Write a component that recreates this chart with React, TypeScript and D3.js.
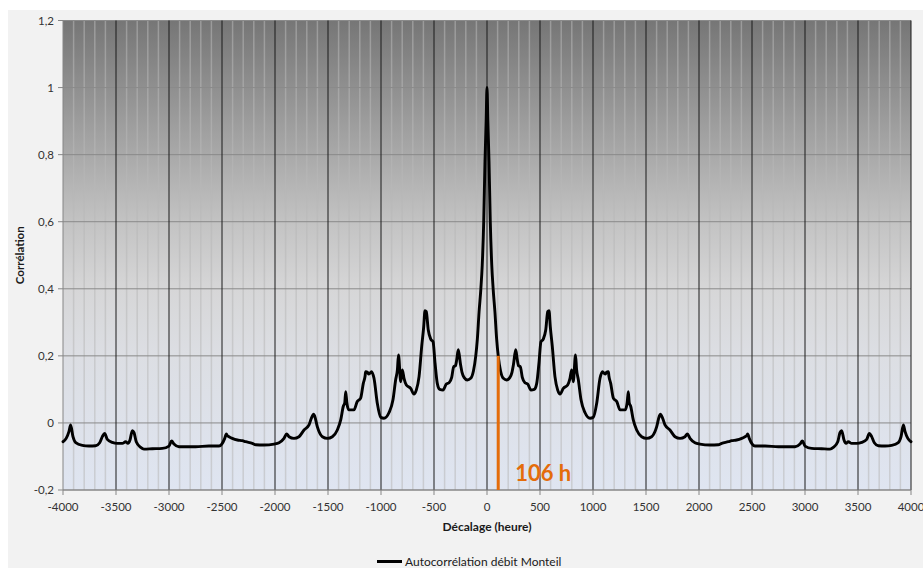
import React from "react";
import * as d3 from "d3";

// Autocorrelation of the Monteil discharge, sampled at positive lags (hours).
// The function is even, so negative lags reuse the same values.
const lagHours = [
  0, 8, 19, 31, 45, 58, 75, 91, 106, 128, 154, 186, 215, 235, 250, 271, 285, 298, 314, 333,
  358, 384, 415, 446, 469, 490, 509, 531, 554, 573, 585, 597, 616, 641, 667, 689, 720, 761,
  783, 799, 814, 835, 845, 862, 887, 924, 972, 1003, 1035, 1066, 1090, 1105, 1118, 1125,
  1145, 1150, 1167, 1192, 1224, 1255, 1305, 1322, 1333, 1342, 1356, 1380, 1412, 1459, 1506,
  1553, 1601, 1625, 1635, 1657, 1679, 1726, 1774, 1821, 1868, 1890, 1915, 1962, 2009, 2104,
  2182, 2214, 2277, 2308, 2355, 2403, 2434, 2450, 2459, 2474, 2502, 2528, 2623, 2749, 2906,
  2953, 2975, 3000, 3063, 3157, 3236, 3267, 3309, 3330, 3346, 3368, 3387, 3409, 3440, 3487,
  3535, 3582, 3607, 3629, 3654, 3692, 3755, 3818, 3880, 3906, 3928, 3944, 3970, 4000,
];
const autocorrelation = [
  1.0, 0.9, 0.78, 0.6, 0.47, 0.4, 0.33, 0.25, 0.2, 0.155, 0.133, 0.128, 0.135, 0.15, 0.175,
  0.218, 0.19, 0.17, 0.168, 0.136, 0.12, 0.116, 0.098, 0.1, 0.118, 0.178, 0.242, 0.25, 0.277,
  0.332, 0.335, 0.287, 0.228, 0.138, 0.098, 0.086, 0.103, 0.113, 0.133, 0.158, 0.123, 0.203,
  0.16, 0.128, 0.069, 0.031, 0.014, 0.017, 0.059, 0.133, 0.153, 0.148, 0.146, 0.15, 0.153,
  0.14, 0.118, 0.074, 0.064, 0.039, 0.039, 0.06, 0.093, 0.06, 0.049, 0.009, -0.021, -0.041,
  -0.046, -0.041, -0.011, 0.02, 0.026, 0.014, -0.006, -0.021, -0.041, -0.046, -0.041, -0.033,
  -0.046, -0.059, -0.063, -0.066, -0.065, -0.061, -0.056, -0.053, -0.051, -0.046, -0.041,
  -0.038, -0.033, -0.046, -0.063, -0.069, -0.069, -0.071, -0.071, -0.063, -0.054, -0.069,
  -0.076, -0.077, -0.078, -0.073, -0.056, -0.029, -0.023, -0.051, -0.061, -0.056, -0.061,
  -0.061, -0.058, -0.049, -0.031, -0.041, -0.059, -0.068, -0.069, -0.067, -0.059, -0.041,
  -0.006, -0.026, -0.046, -0.056,
];

const xTickValues = [
  -4000, -3500, -3000, -2500, -2000, -1500, -1000, -500, 0, 500, 1000, 1500, 2000, 2500, 3000,
  3500, 4000,
];
const xMinorStep = 100;
const yTickValues = [-0.2, 0, 0.2, 0.4, 0.6, 0.8, 1, 1.2];

const markedLag = 106;
const markedValue = 0.2;
const markedLabel = "106 h";

const seriesName = "Autocorrélation débit Monteil";
const xTitle = "Décalage (heure)";
const yTitle = "Corrélation";

const frLocale = d3.formatLocale({
  decimal: ",",
  thousands: " ",
  grouping: [3],
  currency: ["", " €"],
  minus: "-",
});
const fmt = frLocale.format("~g");

const FONT = "Lato, 'Open Sans', sans-serif";

export default function App() {
  const W = 923;
  const H = 568;
  const x = d3.scaleLinear().domain([-4000, 4000]).range([63, 911]);
  const y = d3.scaleLinear().domain([-0.2, 1.2]).range([490, 20.5]);
  const [x0, x1] = x.range();
  const [yBottom, yTop] = y.range();

  const points: [number, number][] = [];
  for (let i = lagHours.length - 1; i > 0; i--) points.push([-lagHours[i], autocorrelation[i]]);
  for (let i = 0; i < lagHours.length; i++) points.push([lagHours[i], autocorrelation[i]]);

  const line = d3
    .line<[number, number]>()
    .x((d) => x(d[0]))
    .y((d) => y(d[1]))
    .curve(d3.curveMonotoneX);

  const minorTicks = d3
    .range(-4000, 4001, xMinorStep)
    .filter((v) => !xTickValues.includes(v));

  return (
    <div style={{ position: "absolute", left: 0, top: 0 }}>
      <svg width={W} height={H} style={{ display: "block" }} fontFamily={FONT}>
        <defs>
          <linearGradient id="plotBg" x1="0" y1="0" x2="0" y2="1">
            <stop offset="0" stopColor="#767676" />
            <stop offset="0.27" stopColor="#a6a6a6" />
            <stop offset="0.43" stopColor="#c3c3c3" />
            <stop offset="0.57" stopColor="#d6d6d7" />
            <stop offset="0.71" stopColor="#dcdee3" />
            <stop offset="1" stopColor="#dfe5f1" />
          </linearGradient>
        </defs>
        <rect x={0} y={0} width={W} height={H} fill="#ffffff" />
        <rect x={8} y={10} width={W - 8} height={H - 10} fill="#f2f2f2" />

        {/* plot area */}
        <rect x={x0} y={yTop} width={x1 - x0} height={yBottom - yTop} fill="url(#plotBg)" />

        {/* minor vertical grid */}
        {minorTicks.map((v) => (
          <line
            key={`m${v}`}
            x1={x(v)}
            x2={x(v)}
            y1={yTop}
            y2={yBottom}
            stroke="#b8b8b8"
            strokeOpacity={0.55}
            strokeWidth={1.5}
          />
        ))}

        {/* horizontal grid */}
        {yTickValues.map((v) => (
          <line
            key={`h${v}`}
            x1={x0}
            x2={x1}
            y1={y(v)}
            y2={y(v)}
            stroke="#8a8a8a"
            strokeWidth={1}
          />
        ))}

        {/* major vertical grid */}
        {xTickValues
          .filter((v) => v !== -4000)
          .map((v) => (
            <line
              key={`M${v}`}
              x1={x(v)}
              x2={x(v)}
              y1={yTop}
              y2={yBottom}
              stroke="#1a1a1a"
              strokeWidth={1}
            />
          ))}

        {/* axes */}
        <line x1={x0} x2={x0} y1={yTop} y2={yBottom} stroke="#868686" strokeWidth={1} />
        <line x1={x0} x2={x1} y1={yBottom} y2={yBottom} stroke="#868686" strokeWidth={1} />
        {yTickValues.map((v) => (
          <g key={`yt${v}`}>
            <line x1={x0 - 5} x2={x0} y1={y(v)} y2={y(v)} stroke="#868686" />
            <text
              x={x0 - 9}
              y={y(v)}
              dy="0.35em"
              textAnchor="end"
              fontSize={11.5}
              fill="#333333"
            >
              {fmt(v)}
            </text>
          </g>
        ))}
        {xTickValues.map((v) => (
          <g key={`xt${v}`}>
            <line x1={x(v)} x2={x(v)} y1={yBottom} y2={yBottom + 5} stroke="#868686" />
            <text x={x(v)} y={yBottom + 21} textAnchor="middle" fontSize={11.5} fill="#333333">
              {fmt(v)}
            </text>
          </g>
        ))}

        {/* series */}
        <path
          d={line(points) ?? ""}
          fill="none"
          stroke="#000000"
          strokeWidth={2.9}
          strokeLinejoin="round"
          strokeLinecap="round"
        />

        {/* decorrelation lag marker */}
        <line
          x1={x(markedLag)}
          x2={x(markedLag)}
          y1={y(markedValue)}
          y2={yBottom}
          stroke="#e46c0a"
          strokeWidth={3}
        />
        <text
          x={x(markedLag) + 17}
          y={481}
          fontSize={22}
          fontWeight="bold"
          fill="#e46c0a"
        >
          {markedLabel}
        </text>

        {/* axis titles */}
        <text
          x={(x0 + x1) / 2}
          y={531}
          textAnchor="middle"
          fontSize={12}
          fontWeight="bold"
          fill="#1a1a1a"
        >
          {xTitle}
        </text>
        <text
          transform={`translate(24, ${(yTop + yBottom) / 2}) rotate(-90)`}
          textAnchor="middle"
          fontSize={11.5}
          fontWeight="bold"
          fill="#1a1a1a"
        >
          {yTitle}
        </text>

        {/* legend */}
        <line x1={377} x2={402} y1={561.5} y2={561.5} stroke="#000000" strokeWidth={3} />
        <text x={405} y={566} fontSize={12} fill="#1a1a1a">
          {seriesName}
        </text>
      </svg>
    </div>
  );
}
